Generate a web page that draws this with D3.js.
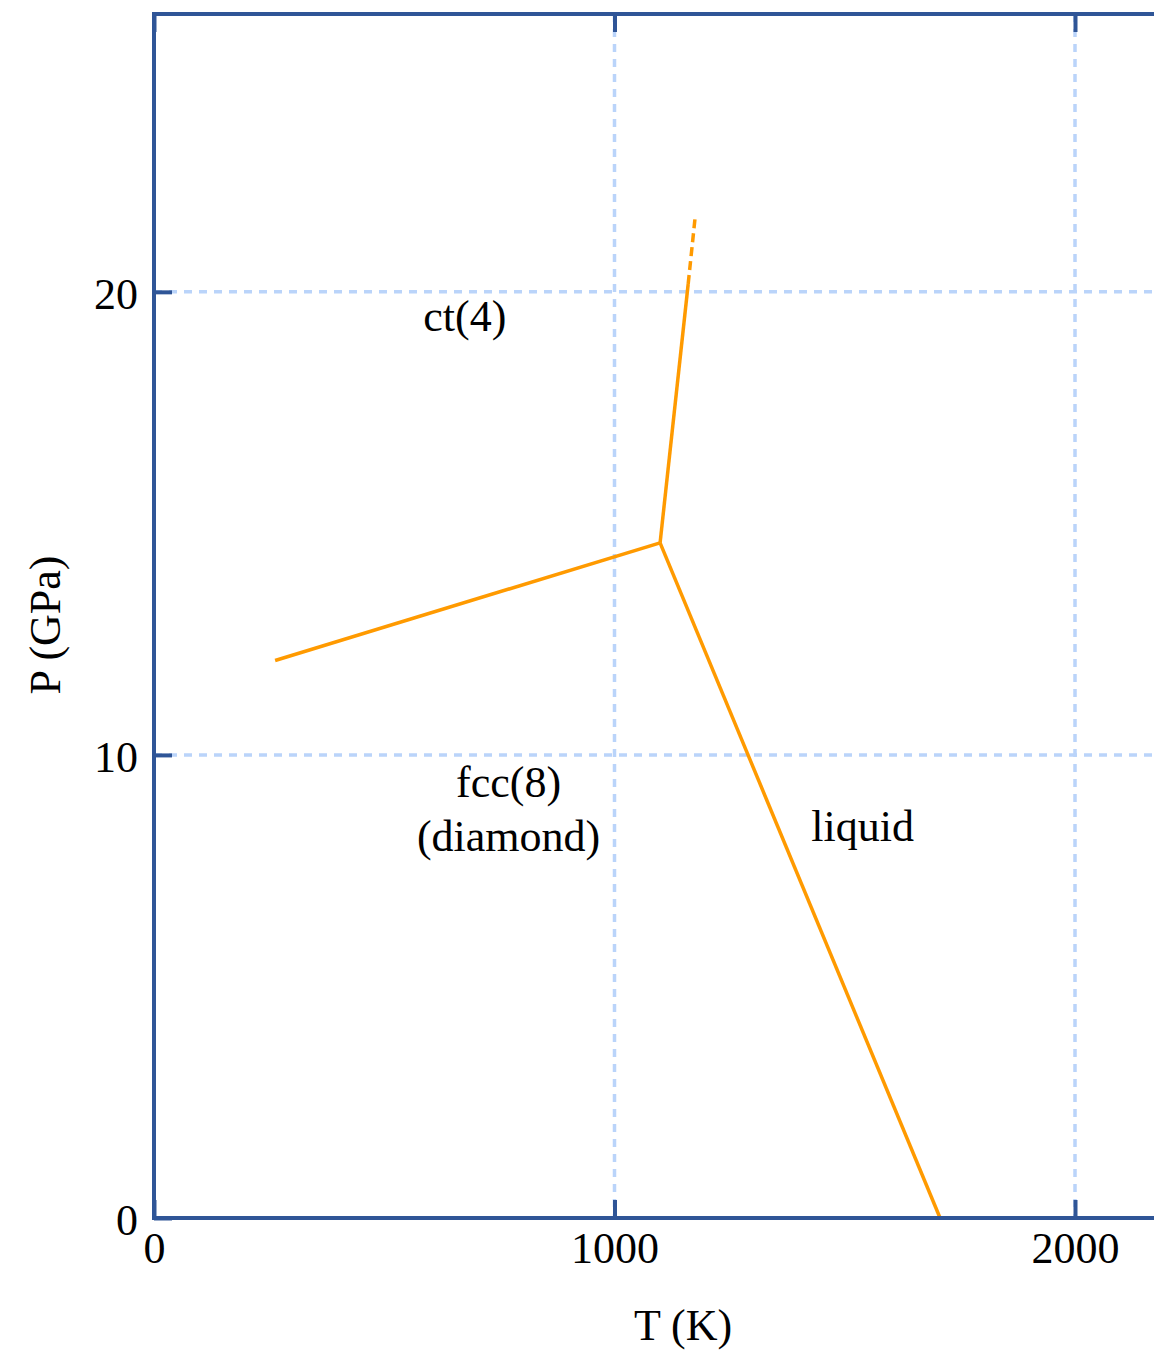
<!DOCTYPE html>
<html>
<head>
<meta charset="utf-8">
<script src="https://cdn.jsdelivr.net/npm/d3@7"></script>
<style>
  body { margin: 0; background: #fff; }
  text { font-family: "Liberation Serif", "DejaVu Serif", serif; fill: #000; }
</style>
</head>
<body>
<svg id="chart"></svg>
<script>
// phase boundaries, [T (K), P (GPa)]
var fccCt = [[263, 12.04], [1099, 14.58]];
var fccLiquid = [[1099, 14.58], [1707, 0]];
var ctLiquid = [[1099, 14.58], [1160, 20.17]];
var ctLiquidExtrap = [[1160, 20.17], [1175, 21.6]];

var xTicks = [0, 1000, 2000];
var yTicks = [0, 10, 20];

var regionLabels = [
  { text: "ct(4)", T: 675, P: 19.15 },
  { text: "fcc(8)", T: 770, P: 9.1 },
  { text: "(diamond)", T: 770, P: 7.92 },
  { text: "liquid", T: 1539, P: 8.15 }
];

var screen = { width: 1154, height: 1351 };
var margins = { top: 14, bottom: 133, left: 154 };

var graphHeight = screen.height - margins.top - margins.bottom;

var xScale = d3.scaleLinear().domain([0, 2000]).range([0, 921]);
var yScale = d3.scaleLinear().domain([0, 26]).range([graphHeight, 0]);
var xEnd = 2200; // frame runs past the right edge of the page

var frameColor = "#2f5597";
var gridColor = "#bad4fa";
var lineColor = "#ff9a00";

var svg = d3.select("#chart")
  .attr("width", screen.width)
  .attr("height", screen.height);

var plot = svg.append("g")
  .attr("transform", "translate(" + margins.left + "," + margins.top + ")");

var xMax = xScale(xEnd);

// grid
plot.selectAll(".vgrid")
  .data(xTicks.filter(function(d) { return d > 0; }))
  .enter().append("line")
  .attr("x1", function(d) { return xScale(d); })
  .attr("x2", function(d) { return xScale(d); })
  .attr("y1", 0).attr("y2", graphHeight)
  .attr("stroke", gridColor).attr("stroke-width", 3.5)
  .attr("stroke-dasharray", "8,7");

plot.selectAll(".hgrid")
  .data(yTicks.filter(function(d) { return d > 0; }))
  .enter().append("line")
  .attr("x1", 0).attr("x2", xMax)
  .attr("y1", function(d) { return yScale(d); })
  .attr("y2", function(d) { return yScale(d); })
  .attr("stroke", gridColor).attr("stroke-width", 3.5)
  .attr("stroke-dasharray", "8,7");

// phase lines
var line = d3.line()
  .x(function(d) { return xScale(d[0]); })
  .y(function(d) { return yScale(d[1]); });

[fccCt, fccLiquid, ctLiquid].forEach(function(seg) {
  plot.append("path")
    .attr("d", line(seg))
    .attr("fill", "none")
    .attr("stroke", lineColor)
    .attr("stroke-width", 3.5);
});

plot.append("path")
  .attr("d", line(ctLiquidExtrap))
  .attr("fill", "none")
  .attr("stroke", lineColor)
  .attr("stroke-width", 3.5)
  .attr("stroke-dasharray", "9,5");

// axes
var xAxis = d3.axisBottom(xScale).tickValues(xTicks).tickSize(-18).tickPadding(36).tickFormat(d3.format("d"));
var yAxis = d3.axisLeft(yScale).tickValues(yTicks).tickSize(-18).tickPadding(16).tickFormat(d3.format("d"));
var xAxisTop = d3.axisTop(xScale).tickValues(xTicks).tickSize(-18).tickFormat("");

function styleAxis(g) {
  g.select(".domain").remove();
  g.selectAll(".tick line").attr("stroke", frameColor).attr("stroke-width", 4);
  g.selectAll(".tick text")
    .attr("font-family", "Liberation Serif, serif")
    .attr("font-size", 44)
    .attr("fill", "#000");
}

plot.append("g")
  .attr("transform", "translate(0," + graphHeight + ")")
  .call(xAxis).call(styleAxis)
  .selectAll(".tick text").attr("dy", "0.2em");

plot.append("g").call(yAxis).call(styleAxis)
  .selectAll(".tick text").attr("dy", "0.38em");

plot.append("g").call(xAxisTop).call(styleAxis);

// frame
plot.append("rect")
  .attr("x", 0).attr("y", 0)
  .attr("width", xMax).attr("height", graphHeight)
  .attr("fill", "none")
  .attr("stroke", frameColor)
  .attr("stroke-width", 4);

// region labels
plot.selectAll(".region")
  .data(regionLabels)
  .enter().append("text")
  .attr("x", function(d) { return xScale(d.T); })
  .attr("y", function(d) { return yScale(d.P); })
  .attr("text-anchor", "middle")
  .attr("font-size", 44)
  .text(function(d) { return d.text; });

// axis titles
svg.append("text")
  .attr("x", 683).attr("y", 1340)
  .attr("text-anchor", "middle")
  .attr("font-size", 44)
  .text("T (K)");

svg.append("text")
  .attr("transform", "translate(60,625) rotate(-90)")
  .attr("text-anchor", "middle")
  .attr("font-size", 44)
  .text("P (GPa)");
</script>
</body>
</html>
